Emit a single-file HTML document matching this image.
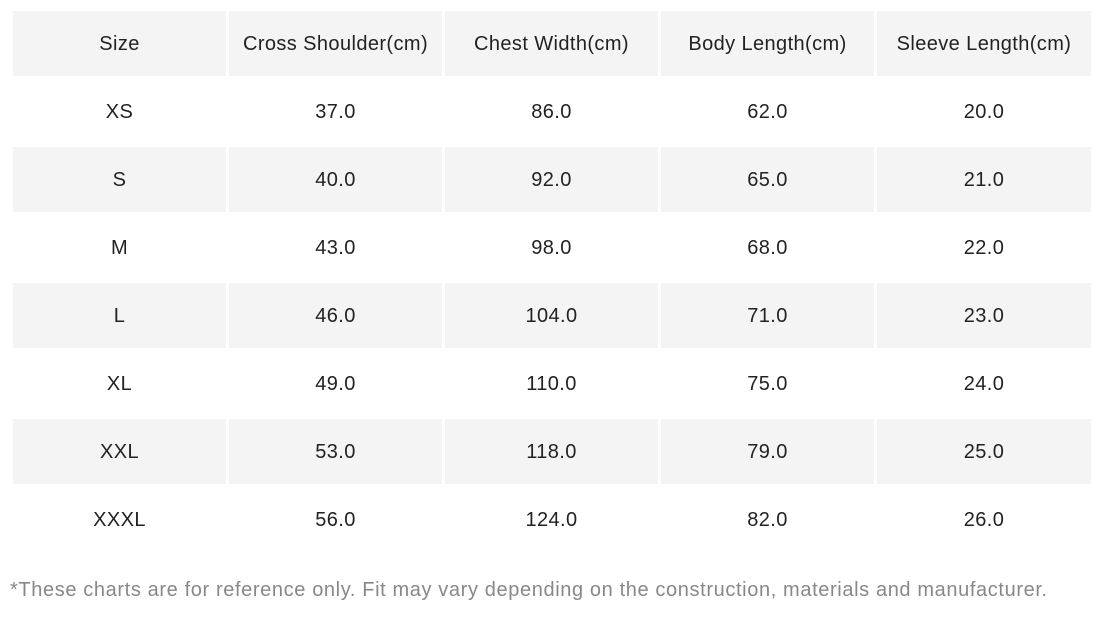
<!DOCTYPE html>
<html><head><meta charset="utf-8"><style>
body{margin:0;width:1105px;height:619px;background:#fff;font-family:"Liberation Sans",sans-serif;position:relative;overflow:hidden}
.c{position:absolute;height:65px;display:flex;align-items:center;justify-content:center;font-size:20px;letter-spacing:0.4px;color:#222;padding-top:2px;box-sizing:border-box}
.g{background:#f4f4f4}
.note{position:absolute;left:10px;top:579px;font-size:20px;letter-spacing:0.62px;color:#888;white-space:nowrap}
</style></head><body>
<div id="t"></div>
<div class="note">*These charts are for reference only. Fit may vary depending on the construction, materials and manufacturer.</div>
<script>
const headers=["Size","Cross Shoulder(cm)","Chest Width(cm)","Body Length(cm)","Sleeve Length(cm)"];
const sizes=["XS","S","M","L","XL","XXL","XXXL"];
const shoulder=["37.0","40.0","43.0","46.0","49.0","53.0","56.0"];
const chest=["86.0","92.0","98.0","104.0","110.0","118.0","124.0"];
const body=["62.0","65.0","68.0","71.0","75.0","79.0","82.0"];
const sleeve=["20.0","21.0","22.0","23.0","24.0","25.0","26.0"];
const lefts=[13,229,445,661,877],widths=[213,213,213,213,214];
const t=document.getElementById('t');
function cell(r,c,txt,name){
  const d=document.createElement('div');
  d.className='c'+(r%2===0?' g':'');
  d.style.left=lefts[c]+'px';d.style.width=widths[c]+'px';d.style.top=(11+68*r)+'px';
  d.textContent=txt;
  
  
  t.appendChild(d);
}
headers.forEach((h,c)=>cell(0,c,h,'header-cell'));
sizes.forEach((s,i)=>{
  const row=[s,shoulder[i],chest[i],body[i],sleeve[i]];
  row.forEach((v,c)=>cell(i+1,c,v,'data-cell'));
});
</script>
</body></html>
